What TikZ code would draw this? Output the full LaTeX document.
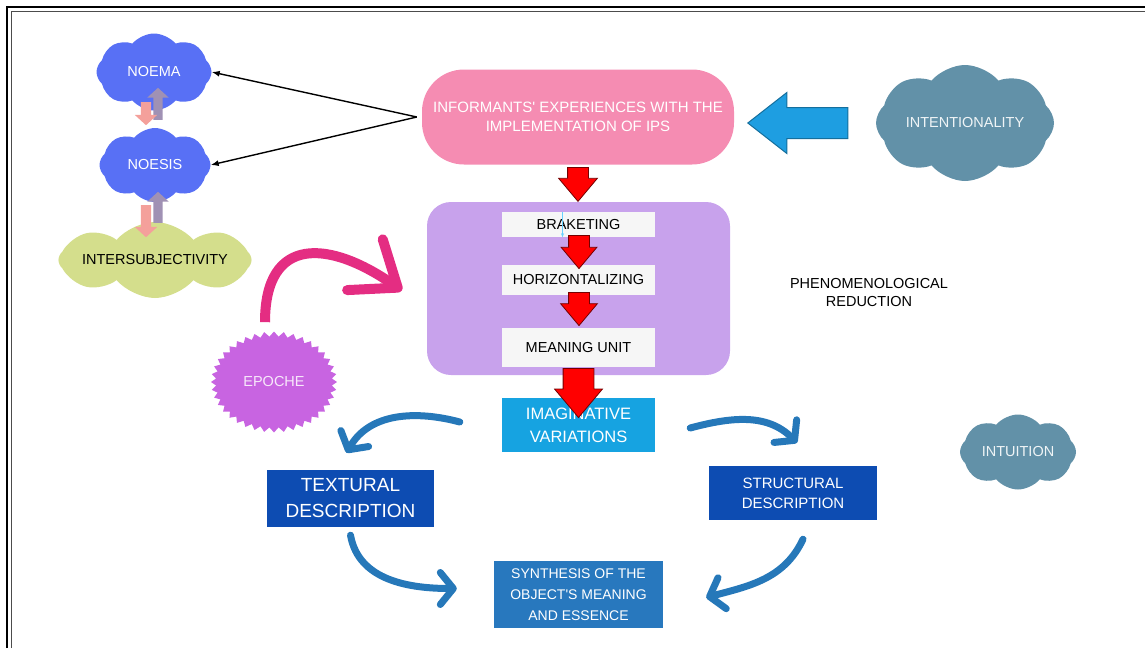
\documentclass[tikz,border=0pt]{standalone}
\usepackage{fontspec}
\setmainfont{Liberation Sans}
\usetikzlibrary{shapes.symbols,shapes.arrows,arrows.meta}

\definecolor{noemablue}{RGB}{88,112,245}
\definecolor{intergreen}{RGB}{212,222,140}
\definecolor{infopink}{RGB}{245,140,178}
\definecolor{reductpurple}{RGB}{200,162,236}
\definecolor{stepwhite}{RGB}{246,246,246}
\definecolor{slate}{RGB}{98,145,168}
\definecolor{bigarrowblue}{RGB}{30,158,225}
\definecolor{imagblue}{RGB}{22,163,225}
\definecolor{descblue}{RGB}{13,76,178}
\definecolor{synthblue}{RGB}{40,120,190}
\definecolor{sweepblue}{RGB}{38,120,185}
\definecolor{epochepink}{RGB}{228,45,130}
\definecolor{epochepurple}{RGB}{200,100,225}
\definecolor{salmon}{RGB}{244,160,155}
\definecolor{mauve}{RGB}{160,145,180}

\begin{document}
\begin{tikzpicture}[x=1pt,y=-1pt,font=\fontsize{14.5}{18}\selectfont,
  puff/.style={cloud, cloud puffs=8, cloud puff arc=100, cloud ignores aspect, fill=#1, inner sep=0pt},
  stepbox/.style={fill=stepwhite, minimum width=153pt, inner sep=0pt},
  descbox/.style={fill=#1, text=white, align=center, inner sep=0pt},
  redarr/.style={single arrow, shape border rotate=270, draw=red!45!black, fill=red, line width=0.8pt,
    single arrow tip angle=80, inner sep=10pt, single arrow head extend=#1, anchor=tail},
  minarr/.style={single arrow, fill=#1, inner sep=5pt, single arrow head extend=6pt, single arrow tip angle=95, anchor=tail},
  thinarr/.style={-{Latex[length=8pt,width=6pt]}, line width=1.4pt},
  sweep/.style={draw=sweepblue, line width=7pt, line cap=round, -{Straight Barb[length=13pt,width=32pt,round]}}]

\useasboundingbox (0,0) rectangle (1145,648);
\draw[line width=2.6pt] (7,648) -- (7,7) -- (1145,7);
\draw[line width=1.3pt, black!70] (11.5,648) -- (11.5,11.5) -- (1145,11.5);

\node[puff=noemablue, minimum width=115pt, minimum height=77pt, text=white] (noema) at (154,72) {NOEMA};
\node[puff=noemablue, minimum width=111pt, minimum height=74pt, text=white] (noesis) at (155,165) {NOESIS};
\node[puff=intergreen, minimum width=186pt, minimum height=76pt] (inter) at (155,260) {INTERSUBJECTIVITY};

\node[minarr=mauve, shape border rotate=90, inner sep=4.5pt, minimum height=32pt] (up1) at (158,120) {};
\node[minarr=salmon, shape border rotate=270, minimum height=23pt] (down1) at (146,102) {};
\node[minarr=mauve, shape border rotate=90, inner sep=4.5pt, minimum height=31pt] (up2) at (158,223) {};
\node[minarr=salmon, shape border rotate=270, minimum height=32pt] (down2) at (146,205) {};

\node[rounded corners=42pt, fill=infopink, minimum width=312pt, minimum height=95pt, text=white, align=center,
  font=\fontsize{15}{19}\selectfont] (info) at (578,117) {INFORMANTS\textquotesingle{} EXPERIENCES WITH THE\\IMPLEMENTATION OF IPS};

\draw[thinarr] ([xshift=-5pt]info.west) -- (noema.east);
\draw[thinarr] ([xshift=-5pt]info.west) -- (noesis.east);

\node[single arrow, shape border rotate=180, fill=bigarrowblue, draw=bigarrowblue!70!black, line width=1pt,
  minimum height=100pt, inner sep=15pt, single arrow head extend=15pt, single arrow tip angle=76, anchor=tip] (push) at (747,123) {};
\node[puff=slate, minimum width=178pt, minimum height=116pt, text=white!90!slate] (intent) at (965,123) {INTENTIONALITY};

\node[rounded corners=24pt, fill=reductpurple, minimum width=303pt, minimum height=173pt] (reduct) at (578.5,288.5) {};
\node[stepbox, minimum height=25pt] (braket) at (578.5,224.5) {BRAKETING};
\node[stepbox, minimum height=30pt] (horiz) at (578.5,280) {HORIZONTALIZING};
\node[stepbox, minimum height=39pt] (meaning) at (578.5,347.5) {MEANING UNIT};
\draw[-{Stealth[length=4pt]}, draw=blue!30!cyan!60, line width=0.6pt] ([xshift=-16pt]braket.north) -- ([xshift=-16pt]braket.south);

\node[redarr=9pt, minimum height=34pt] (red1) at (578,167) {};
\node[redarr=7.5pt, minimum height=27pt] (red2) at (579,235) {};
\node[redarr=8pt, minimum height=28pt] (red3) at (579,292) {};

\node[align=center] (phen) at (869,293) {PHENOMENOLOGICAL\\REDUCTION};

\node[starburst, starburst points=40, starburst point height=5pt, random starburst=0, fill=epochepurple,
  minimum width=126pt, minimum height=101pt, text=white!85!epochepurple] (epoche) at (274,382) {EPOCHE};
\draw[draw=epochepink, line width=10pt, -{Straight Barb[length=40pt,width=62pt,round]}]
  ([xshift=-9pt,yshift=9pt]epoche.north) to[out=90,in=145,looseness=1.6] ([xshift=-25pt,yshift=-2pt]reduct.west);

\node[descbox=imagblue, minimum width=153pt, minimum height=54pt, font=\fontsize{16.5}{23}\selectfont] (imag) at (578.5,425) {IMAGINATIVE\\VARIATIONS};
\node[redarr=8.5pt, inner sep=15pt, minimum height=40pt] (red4) at (578.5,368) {};

\node[descbox=descblue, minimum width=167pt, minimum height=57pt, font=\fontsize{19}{26}\selectfont] (textural) at (350.5,498.5) {TEXTURAL\\DESCRIPTION};
\node[descbox=descblue, minimum width=168pt, minimum height=54pt, font=\fontsize{15}{20}\selectfont] (structural) at (793,493) {STRUCTURAL\\DESCRIPTION};
\node[descbox=synthblue, minimum width=169pt, minimum height=67pt, font=\fontsize{14}{21}\selectfont] (synth) at (578.5,594.5) {SYNTHESIS OF THE\\OBJECT\textquotesingle{}S MEANING\\AND ESSENCE};

\draw[sweep] ([xshift=-42pt,yshift=3pt]imag.west) to[out=165,in=60] ([xshift=-4pt,yshift=17pt]textural.north);
\draw[sweep] ([xshift=35pt,yshift=-3pt]imag.east) to[out=15,in=135] ([xshift=4pt,yshift=23pt]structural.north);
\draw[sweep] ([yshift=-8pt]textural.south) to[out=-80,in=180] ([xshift=-37pt,yshift=6pt]synth.west);
\draw[sweep] ([xshift=10pt,yshift=-19pt]structural.south) to[out=-115,in=15] ([xshift=43pt,yshift=-3pt]synth.east);

\node[puff=slate, minimum width=116pt, minimum height=75pt, text=white!90!slate] (intuit) at (1018,452) {INTUITION};
\end{tikzpicture}
\end{document}
